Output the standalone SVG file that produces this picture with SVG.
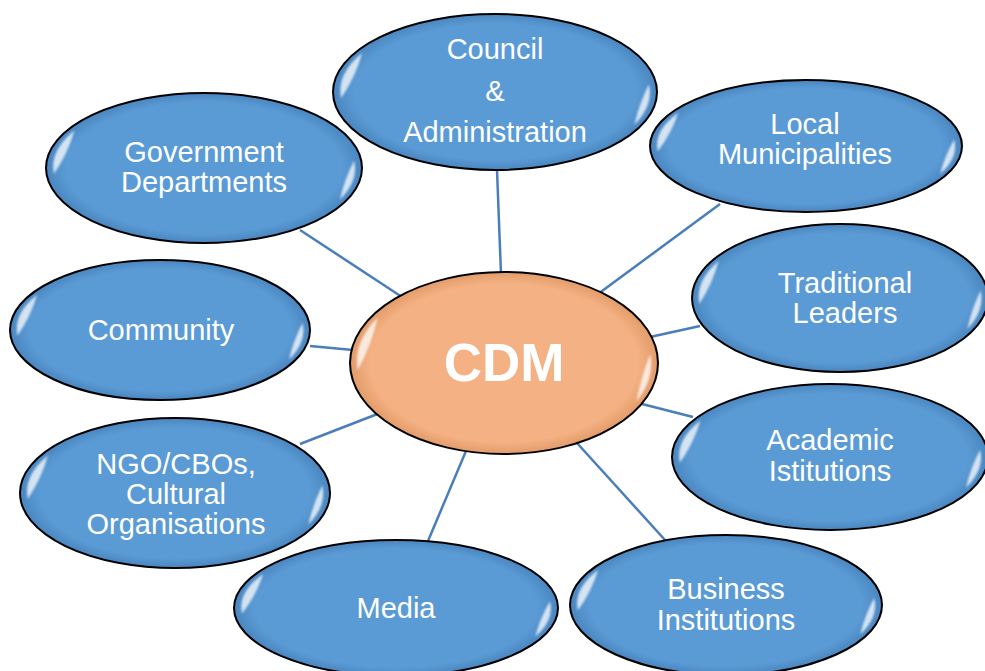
<svg xmlns="http://www.w3.org/2000/svg" xmlns:xlink="http://www.w3.org/1999/xlink" width="985" height="671" viewBox="0 0 985 671">
<style>
.blue{fill:url(#gBlue);stroke:#000;stroke-width:2}
.orange{fill:url(#gOrange);stroke:#000;stroke-width:2}
.t{font-family:"Liberation Sans",Arial,sans-serif;font-size:29px;fill:#fff;text-anchor:middle}
.big{font-family:"Liberation Sans",Arial,sans-serif;font-size:53px;font-weight:bold;fill:#fff;text-anchor:middle}
.conn line{stroke:#4a7ebb;stroke-width:2.5}
</style>
<defs>
<radialGradient id="gBlue" cx="0.5" cy="0.5" r="0.5">
<stop offset="0" stop-color="#5b9bd5"/>
<stop offset="0.87" stop-color="#5b9bd5"/>
<stop offset="1" stop-color="#4a86c0"/>
</radialGradient>
<radialGradient id="gOrange" cx="0.5" cy="0.5" r="0.5">
<stop offset="0" stop-color="#f4b183"/>
<stop offset="0.87" stop-color="#f4b183"/>
<stop offset="1" stop-color="#e39c6a"/>
</radialGradient>
<filter id="soft" x="-10%" y="-10%" width="120%" height="120%"><feGaussianBlur stdDeviation="1.2"/></filter>
<g id="hl" fill="#fff" fill-opacity="0.75">
<path d="M -0.82 -0.50 A 0.955 0.955 0 0 0 -0.950 0.08 Q -0.86 -0.20 -0.82 -0.50 Z"/>
<path d="M 0.950 -0.10 A 0.955 0.955 0 0 1 0.86 0.42 Q 0.89 0.15 0.950 -0.10 Z"/>
</g>
</defs>
<rect width="985" height="671" fill="#fff"/>
<g id="connectors" class="conn">
<line x1="497" y1="170" x2="501" y2="274"/>
<line x1="300" y1="230" x2="402" y2="297"/>
<line x1="720" y1="204" x2="598" y2="294"/>
<line x1="700" y1="326" x2="650" y2="337"/>
<line x1="310" y1="346" x2="353" y2="350"/>
<line x1="693" y1="417" x2="642" y2="404"/>
<line x1="300" y1="444" x2="380" y2="413"/>
<line x1="428" y1="541" x2="466" y2="451"/>
<line x1="665" y1="540" x2="577" y2="443"/>
</g>
<g id="council">
<ellipse class="blue" cx="495" cy="92" rx="162" ry="78"/>
<g filter="url(#soft)"><use xlink:href="#hl" transform="translate(495 92) scale(162 78)"/></g>
<text class="t" x="495" y="59">Council</text>
<text class="t" x="495" y="101">&amp;</text>
<text class="t" x="495" y="142">Administration</text>
</g>
<g id="local">
<ellipse class="blue" cx="806" cy="146" rx="156" ry="66"/>
<g filter="url(#soft)"><use xlink:href="#hl" transform="translate(806 146) scale(156 66)"/></g>
<text class="t" x="805" y="134">Local</text>
<text class="t" x="805" y="164">Municipalities</text>
</g>
<g id="government">
<ellipse class="blue" cx="204" cy="168" rx="158" ry="75"/>
<g filter="url(#soft)"><use xlink:href="#hl" transform="translate(204 168) scale(158 75)"/></g>
<text class="t" x="204" y="162">Government</text>
<text class="t" x="204" y="192">Departments</text>
</g>
<g id="traditional">
<ellipse class="blue" cx="840" cy="298" rx="148" ry="74"/>
<g filter="url(#soft)"><use xlink:href="#hl" transform="translate(840 298) scale(148 74)"/></g>
<text class="t" x="845" y="293">Traditional</text>
<text class="t" x="845" y="323">Leaders</text>
</g>
<g id="community">
<ellipse class="blue" cx="160" cy="330" rx="150" ry="70"/>
<g filter="url(#soft)"><use xlink:href="#hl" transform="translate(160 330) scale(150 70)"/></g>
<text class="t" x="161" y="340">Community</text>
</g>
<g id="cdm">
<ellipse class="orange" cx="504" cy="363" rx="154" ry="91"/>
<g filter="url(#soft)"><use xlink:href="#hl" transform="translate(504 363) scale(154 91)"/></g>
<text class="big" x="504" y="381">CDM</text>
</g>
<g id="academic">
<ellipse class="blue" cx="830" cy="457" rx="158" ry="73"/>
<g filter="url(#soft)"><use xlink:href="#hl" transform="translate(830 457) scale(158 73)"/></g>
<text class="t" x="830" y="450">Academic</text>
<text class="t" x="830" y="481">Istitutions</text>
</g>
<g id="ngo">
<ellipse class="blue" cx="175" cy="493" rx="155" ry="75"/>
<g filter="url(#soft)"><use xlink:href="#hl" transform="translate(175 493) scale(155 75)"/></g>
<text class="t" x="176" y="474">NGO/CBOs,</text>
<text class="t" x="176" y="504">Cultural</text>
<text class="t" x="176" y="534">Organisations</text>
</g>
<g id="media">
<ellipse class="blue" cx="396" cy="608" rx="162" ry="68"/>
<g filter="url(#soft)"><use xlink:href="#hl" transform="translate(396 608) scale(162 68)"/></g>
<text class="t" x="396" y="618">Media</text>
</g>
<g id="business">
<ellipse class="blue" cx="726" cy="605" rx="156" ry="70"/>
<g filter="url(#soft)"><use xlink:href="#hl" transform="translate(726 605) scale(156 70)"/></g>
<text class="t" x="726" y="599">Business</text>
<text class="t" x="726" y="630">Institutions</text>
</g>
</svg>
